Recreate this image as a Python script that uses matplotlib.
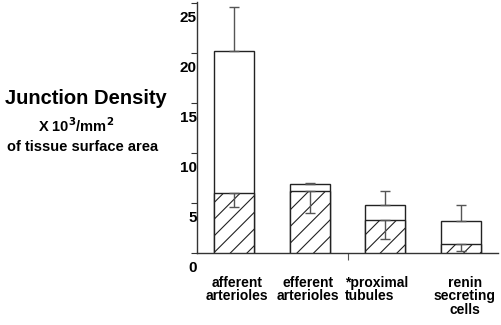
import matplotlib
matplotlib.use("Agg")
import matplotlib.pyplot as plt
import matplotlib.transforms as mtransforms

plt.rcParams['font.family'] = ['Liberation Sans', 'DejaVu Sans']
plt.rcParams['hatch.linewidth'] = 0.8

categories = ["afferent\narterioles", "efferent\narterioles", "*proximal\ntubules", "renin\nsecreting\ncells"]
total_values = [20.2, 6.9, 4.8, 3.2]
total_errors = [4.4, 0.1, 1.4, 1.6]
hatched_values = [6.0, 6.2, 3.3, 0.95]
hatched_errors = [1.4, 2.15, 1.9, 0.7]
y_ticks = [0, 5, 10, 15, 20, 25]
y_tick_labels = ["0", "5", "10", "15", "20", "25"]

fig = plt.figure(figsize=(5.02, 3.25), dpi=100)
ax = fig.add_axes([197/502, (325-253)/325, (498-197)/502, (253-2)/325])

x = list(range(len(categories)))
edge = "#222222"
errc = "#555555"
w = 0.53

ax.bar(x, total_values, width=w, color="white", edgecolor=edge, linewidth=1.0, zorder=2)
ax.bar(x, hatched_values, width=w, color="white", edgecolor=edge, linewidth=1.0,
       hatch="//", zorder=3)

ax.errorbar(x, total_values, yerr=[[0]*4, total_errors], fmt="none", ecolor=errc,
            elinewidth=1.0, capsize=3.5, capthick=1.0, zorder=4)
ax.errorbar(x, hatched_values, yerr=[hatched_errors, [0]*4], fmt="none", ecolor=errc,
            elinewidth=1.0, capsize=3.5, capthick=1.0, zorder=4)

ax.set_xlim(-0.49, 3.49)
ax.set_ylim(0, 25.1)

for s in ["top", "right"]:
    ax.spines[s].set_visible(False)
for s in ["left", "bottom"]:
    ax.spines[s].set_color("#333333")
    ax.spines[s].set_linewidth(1.0)

ax.set_xticks([1.5])
ax.set_xticklabels([""])
ax.tick_params(axis="x", length=5, width=0.8, color="#555555")

ax.set_yticks(y_ticks)
ax.set_yticklabels(y_tick_labels, fontsize=11, fontweight="bold")
ax.tick_params(axis="y", length=4, width=0.8, color="#333333", pad=-4)
offset = mtransforms.ScaledTranslation(0, -14/100, fig.dpi_scale_trans)
for lab in ax.get_yticklabels():
    lab.set_transform(lab.get_transform() + offset)

trans = mtransforms.blended_transform_factory(ax.transData, fig.transFigure)
label_shift_px = [3, -2, -9, 4]
label_align = ["center", "center", "left", "center"]
for xi, cat, sh, al in zip(x, categories, label_shift_px, label_align):
    t = ax.text(xi, 1 - 276/325, cat, transform=trans, ha="center", va="top",
                fontsize=10, fontweight="bold", linespacing=0.95, multialignment=al)
    t.set_transform(trans + mtransforms.ScaledTranslation(sh/100, 0, fig.dpi_scale_trans))

fig.text(86/502, 1 - 99/325, "Junction Density", ha="center", va="center",
         fontsize=14.5, fontweight="bold")
fig.text(76/502, 1 - 126/325, r"X 10$^\mathbf{3}$/mm$^\mathbf{2}$", ha="center", va="center",
         fontsize=10.5, fontweight="bold")
fig.text(83/502, 1 - 147/325, "of tissue surface area", ha="center", va="center",
         fontsize=10.5, fontweight="bold")

fig.savefig("out.png", dpi=100)
